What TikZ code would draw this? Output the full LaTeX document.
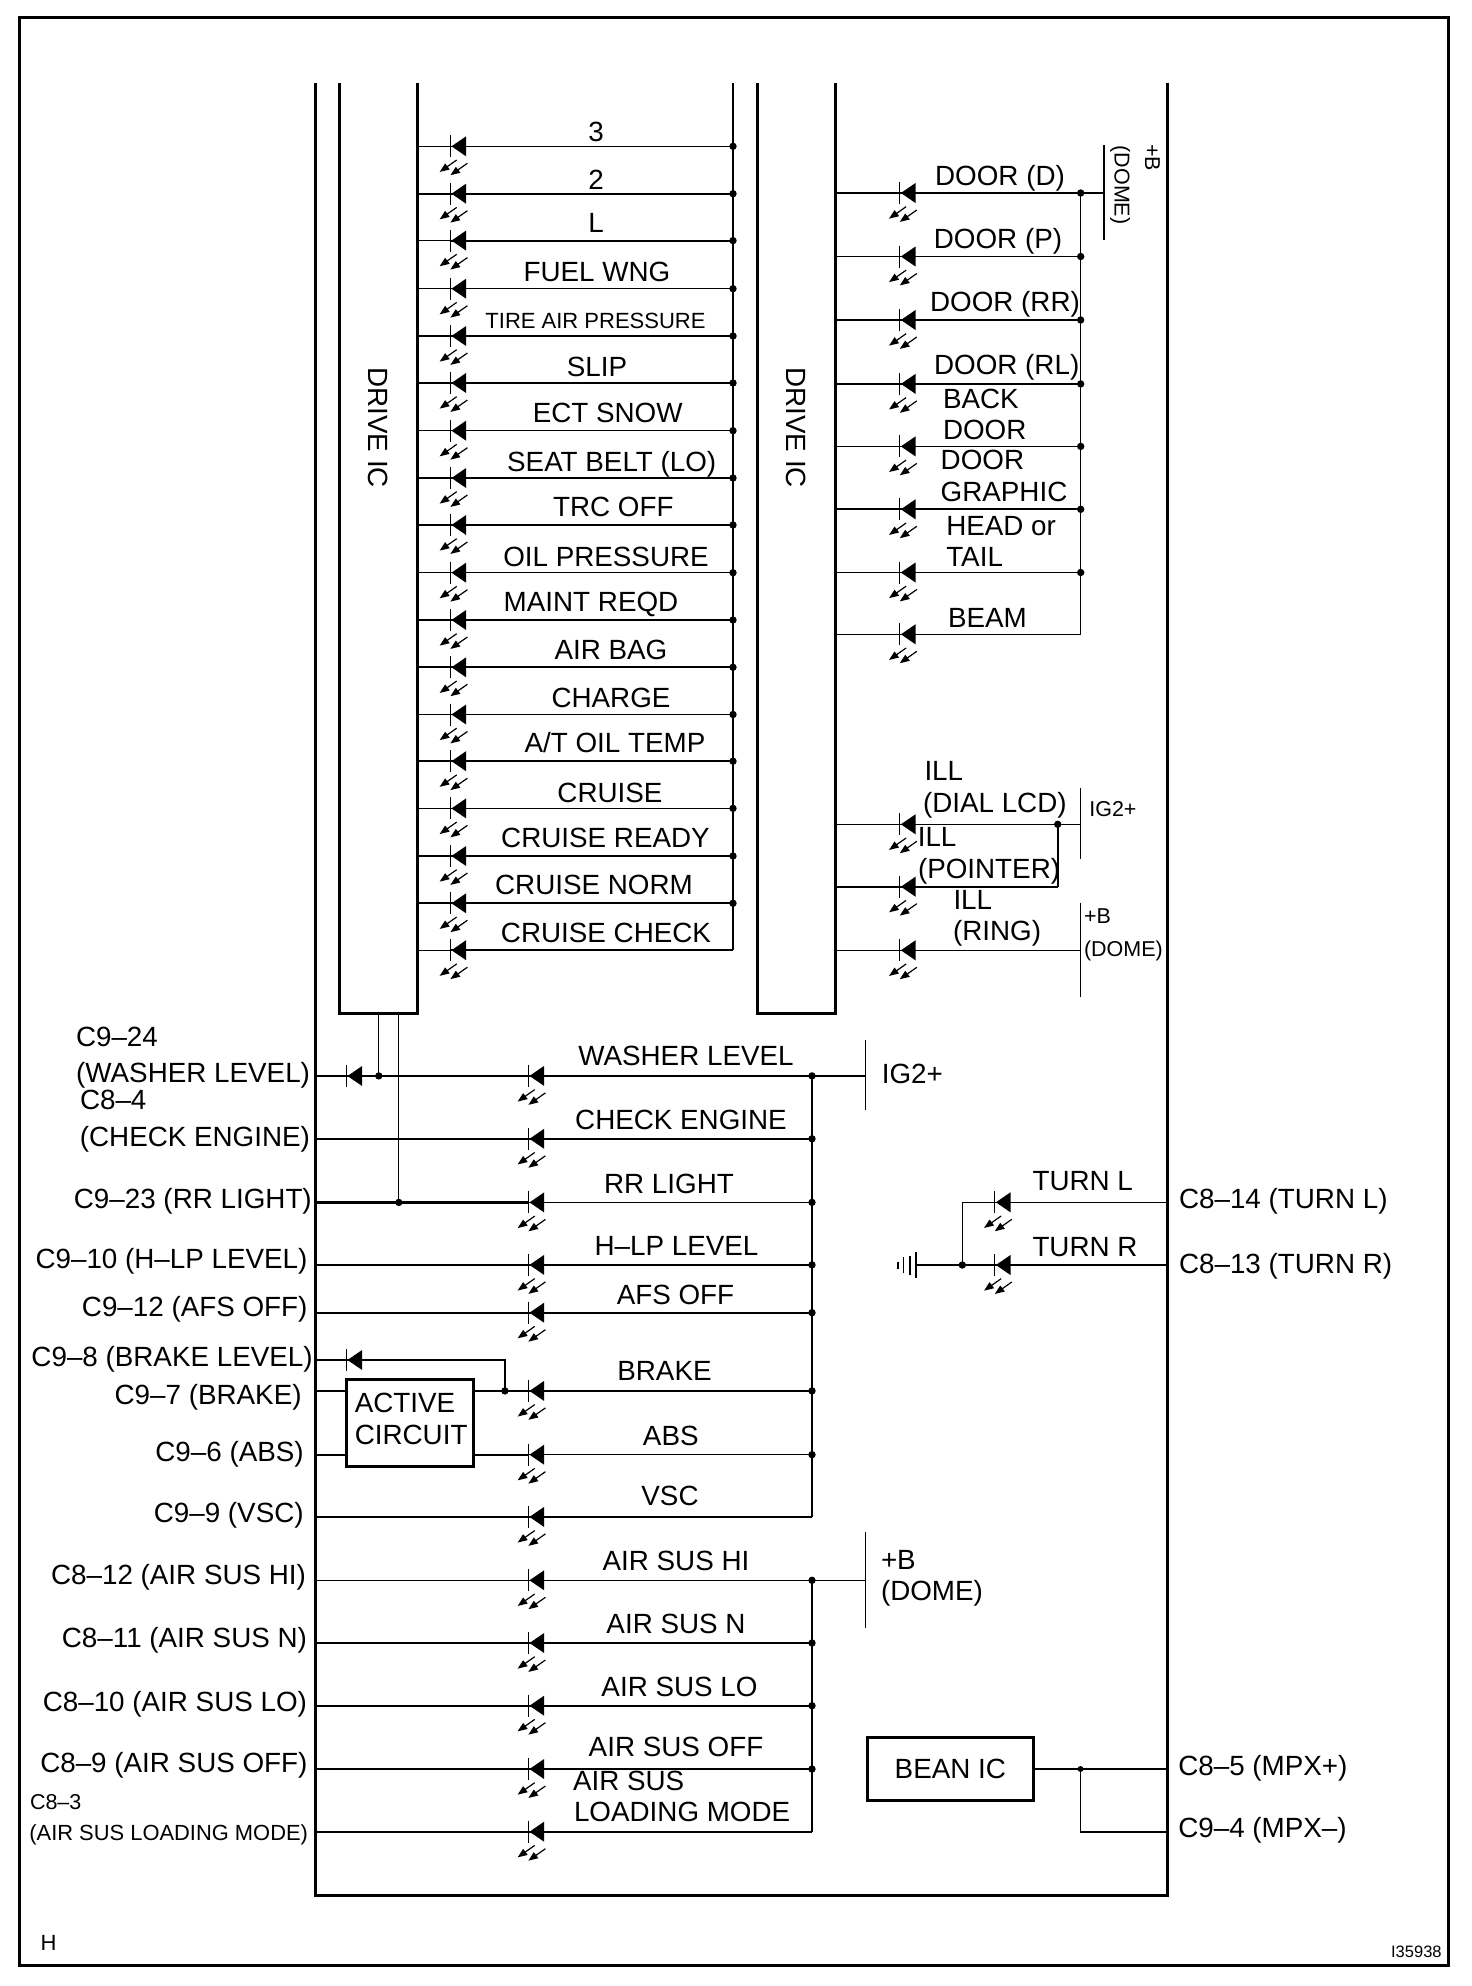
\documentclass[tikz,border=0pt]{standalone}
\usepackage{fontspec}
\setmainfont{Liberation Sans}
\tikzset{
  x=1pt,y=-1pt,
  lab/.style={inner sep=0pt,outer sep=0pt,anchor=base,font=\fontsize{27.8}{30}\selectfont},
  labw/.style={lab,anchor=base west},
  labe/.style={lab,anchor=base east},
  small/.style={font=\fontsize{21.5}{24}\selectfont},
  heavy/.style={line width=3pt},
  thinw/.style={line width=1.2pt},
  medw/.style={line width=1.8pt},
  jdot/.style={circle,fill=black,inner sep=0pt,minimum size=7.4pt},
  boxnode/.style={draw=black,line width=3pt,inner sep=0pt},
  diode/.pic={
    \draw[line width=1.3pt] (0,-11) -- (0,11);
    \fill (1.2,0) -- (15.8,-10) -- (15.8,10) -- cycle;
  },
  rays/.pic={
    \foreach \dx/\dy in {0/0,10.7/3.3}{
      \begin{scope}[shift={(\dx,\dy)}]
        \draw[line width=1.2pt] (6.4,13.7) -- (-5,21.7);
        \fill (-10.6,25.6) -- (-0.6,23.2) -- (-2.6,20.4) -- (-5.2,17.2) -- cycle;
      \end{scope}
    }
  },
}
\newcommand\wirerow[7]{%
  \coordinate (#1-a) at (#2,#5);
  \coordinate (#1-d) at (#3,#5);
  \coordinate (#1-b) at (#4,#5);
  \draw[line width=#6pt] (#1-a) -- (#1-d);
  \draw[line width=#7pt] (#1-d) -- (#1-b);
  \pic at (#1-d) {diode};
  \pic at (#1-d) {rays};
}
\begin{document}
\begin{tikzpicture}
\useasboundingbox (0,0) rectangle (1472,1986);
\fill[white] (0,0) rectangle (1472,1986);

% outer frame and module outline
\coordinate (fa) at (19.5,17.3);
\coordinate (fb) at (1448.5,1965.5);
\draw[heavy] (fa) rectangle (fb);
\coordinate (oa) at (315.5,83);
\coordinate (ob) at (315.5,1895);
\coordinate (oc) at (1167.7,1895);
\coordinate (od) at (1167.7,83);
\draw[heavy,miter limit=10] (oa) -- (ob) -- (oc) -- (od);

% drive ICs
\coordinate (ia) at (339.3,83);
\coordinate (ib) at (339.3,1013.5);
\coordinate (ic) at (417.3,1013.5);
\coordinate (id) at (417.3,83);
\draw[heavy] (ia) -- (ib) -- (ic) -- (id);
\coordinate (ja) at (757.3,83);
\coordinate (jb) at (757.3,1013.5);
\coordinate (jc) at (835,1013.5);
\coordinate (jd) at (835,83);
\draw[heavy] (ja) -- (jb) -- (jc) -- (jd);
\node[lab,rotate=-90] (drv1) at (368,427.7) {DRIVE IC};
\node[lab,rotate=-90] (drv2) at (786.5,427.7) {DRIVE IC};

% left indicator column
\foreach \y/\a/\b [count=\i] in {
  146.3/1.2/1.2, 193.7/2.2/2.2, 240.6/1.2/2.2, 288.7/1.2/1.2, 336/2.2/2.2, 383/2.2/2.2,
  430.7/1.2/1.2, 478/1.2/1.2, 525/2.2/2.2, 572.7/1.2/1.2, 620/2.2/2.2, 667.3/2.2/2.2,
  714.5/1.2/1.2, 761.2/2/2, 808.4/1.2/1.2, 856/2.2/2.2, 903.3/2.2/2.2, 950.2/1.2/2.2}{
  \wirerow{u\i}{417.3}{450.3}{733}{\y}{\a}{\b}
}
\coordinate (ubt) at (733,83);
\draw[medw] (ubt) -- (u18-b);
\foreach \i in {1,...,17}{\node[jdot] (ud\i) at (u\i-b) {};}
\node[lab] (t3) at (596,141) {3};
\node[lab] (t2) at (596,189.3) {2};
\node[lab] (tL) at (596,232) {L};
\node[lab] (tfuel) at (597,281.7) {FUEL WNG};
\node[lab,font=\fontsize{22}{24}\selectfont] (ttire) at (595.5,328) {TIRE AIR PRESSURE};
\node[lab] (tslip) at (597,376.7) {SLIP};
\node[lab] (tect) at (607.7,422.7) {ECT SNOW};
\node[lab] (tseat) at (611.7,471) {SEAT BELT (LO)};
\node[lab] (ttrc) at (613.3,516.4) {TRC OFF};
\node[lab] (toil) at (606,566) {OIL PRESSURE};
\node[lab] (tmaint) at (591,611.6) {MAINT REQD};
\node[lab] (tbag) at (611,659.3) {AIR BAG};
\node[lab] (tcharge) at (611,707.5) {CHARGE};
\node[lab] (tatoil) at (615,752.7) {A/T OIL TEMP};
\node[lab] (tcruise) at (610,802.5) {CRUISE};
\node[lab] (tready) at (605.5,847) {CRUISE READY};
\node[lab] (tnorm) at (594,894.5) {CRUISE NORM};
\node[lab] (tcheck) at (606,942.2) {CRUISE CHECK};

% right indicator column
\foreach \y/\a/\b [count=\i] in {
  193/2.2/2.2, 256.5/1.2/1.2, 320/2.2/2.2, 383.9/2.2/2.2,
  446.4/1.2/1.2, 509.3/2.2/2.2, 572.5/1.2/1.2, 634.3/1.2/1.2}{
  \wirerow{v\i}{835}{899.7}{1080.7}{\y}{\a}{\b}
}
\draw[thinw] (v1-b) -- (v8-b);
\foreach \i in {1,...,7}{\node[jdot] (vd\i) at (v\i-b) {};}
\coordinate (dma) at (1104,145.4);
\coordinate (dmb) at (1104,240);
\coordinate (dmc) at (1104,193);
\draw[thinw] (dma) -- (dmb);
\draw[medw] (v1-b) -- (dmc);
\node[lab,small,rotate=-90] (tpb1) at (1145,157.8) {+B};
\node[lab,small,rotate=-90] (tdm1) at (1114.5,185) {(DOME)};
\node[lab] (td1) at (1000,185) {DOOR (D)};
\node[lab] (td2) at (998,248) {DOOR (P)};
\node[lab] (td3) at (1005,311) {DOOR (RR)};
\node[lab] (td4) at (1006.7,374.3) {DOOR (RL)};
\node[labw] (td5) at (943,408.2) {BACK};
\node[labw] (td6) at (943,439.3) {DOOR};
\node[labw] (td7) at (940.7,469.6) {DOOR};
\node[labw] (td8) at (940.7,501.8) {GRAPHIC};
\node[labw] (td9) at (946.3,535.3) {HEAD or};
\node[labw] (td10) at (946.3,566.3) {TAIL};
\node[labw] (td11) at (948,627.8) {BEAM};

% illumination group
\wirerow{w1}{835}{899.7}{1080.3}{824.3}{1.2}{1.2}
\wirerow{w2}{835}{899.7}{1057.7}{886.7}{2.2}{2.2}
\wirerow{w3}{835}{899.7}{1080.3}{950.3}{1.2}{1.2}
\coordinate (wj) at (1057.7,824.3);
\node[jdot] (wjd) at (wj) {};
\draw[line width=2.2pt] (wjd.center) -- (w2-b);
\coordinate (iga) at (1080.3,788.3);
\coordinate (igb) at (1080.3,859.3);
\draw[thinw] (iga) -- (igb);
\coordinate (dna) at (1080.3,903.3);
\coordinate (dnb) at (1080.3,996.7);
\draw[thinw] (dna) -- (dnb);
\node[labw] (til1) at (924.5,780.7) {ILL};
\node[labw] (til2) at (923,812.3) {(DIAL LCD)};
\node[labw] (til3) at (917.8,846.7) {ILL};
\node[labw] (til4) at (918,878.3) {(POINTER)};
\node[labw] (til5) at (953.5,909.3) {ILL};
\node[labw] (til6) at (953,940.3) {(RING)};
\node[labw,small] (tig1) at (1089.3,816.7) {IG2+};
\node[labw,small] (tpb2) at (1084,923.3) {+B};
\node[labw,small] (tdm2) at (1084,956.3) {(DOME)};

% lower IG2+ group
\foreach \n/\y/\a/\b in {
  a/1075.9/1.2/2.2, b/1138.8/2.2/2.2, c/1202.4/2.2/1.2, d/1264.9/2.2/2.2, e/1312.7/2.2/2.2, h/1516.9/2.2/2.2}{
  \wirerow{\n}{315.5}{528.3}{812}{\y}{\a}{\b}
}
\node[boxnode,minimum width=127pt,minimum height=86.7pt] (act) at (410.3,1422.65) {};
\coordinate (fl) at (315.5,1390.9);
\coordinate (fw) at (act.west |- fl);
\coordinate (gl) at (315.5,1454.7);
\coordinate (gw) at (act.west |- gl);
\draw[line width=2.2pt] (fl) -- (fw);
\draw[line width=2.2pt] (gl) -- (gw);
\wirerow{f}{473.8}{528.3}{812}{1390.9}{2.2}{2.2}
\wirerow{g}{473.8}{528.3}{812}{1454.7}{2.2}{1.2}
\draw[line width=2.4pt] (a-b) -- (h-b);
\foreach \n in {a,b,c,d,e,f,g}{\node[jdot] (dot\n) at (\n-b) {};}
\coordinate (iha) at (865.5,1040);
\coordinate (ihb) at (865.5,1110.2);
\coordinate (ihc) at (865.5,1075.9);
\draw[line width=1.4pt] (iha) -- (ihb);
\draw[line width=2.2pt] (a-b) -- (ihc);
\node[labw] (tig2) at (881.8,1083) {IG2+};
\node[lab] (lw) at (686,1065.8) {WASHER LEVEL};
\node[lab] (lc) at (681,1129.5) {CHECK ENGINE};
\node[lab] (lr) at (669,1193.2) {RR LIGHT};
\node[lab] (lh) at (676.5,1255.9) {H–LP LEVEL};
\node[lab] (lf) at (675.5,1304) {AFS OFF};
\node[lab] (lb) at (664.5,1380.5) {BRAKE};
\node[lab] (la) at (670.8,1445) {ABS};
\node[lab] (lv) at (670,1505.5) {VSC};

% active circuit text and small diodes
\node[labw] (tact) at (354.8,1412.8) {ACTIVE};
\node[labw] (tcir) at (354.8,1444.6) {CIRCUIT};
\coordinate (sd1) at (346.3,1076);
\pic at (sd1) {diode};
\coordinate (sd2l) at (315.5,1360);
\coordinate (sd2) at (346.3,1360);
\coordinate (sd2r) at (504.9,1360);
\coordinate (sd2j) at (504.9,1390.9);
\draw[line width=1.7pt] (sd2l) -- (sd2) (sd2) -- (sd2r) -- (sd2j);
\pic at (sd2) {diode};
\node[jdot] (sd2d) at (sd2j) {};
\coordinate (dr1) at (378.8,1013.5);
\coordinate (dr1j) at (378.8,1075.9);
\coordinate (dr2) at (398.8,1013.5);
\coordinate (dr2j) at (398.8,1202.4);
\draw[thinw] (dr1) -- (dr1j);
\draw[thinw] (dr2) -- (dr2j);
\node[jdot] (dr1d) at (dr1j) {};
\node[jdot] (dr2d) at (dr2j) {};

% left connector labels
\node[labw] (c1a) at (76,1046) {C9–24};
\node[labe] (c1b) at (310,1082) {(WASHER LEVEL)};
\node[labw] (c2a) at (80,1109.3) {C8–4};
\node[labe] (c2b) at (310,1146) {(CHECK ENGINE)};
\node[labe] (c3) at (311.8,1208) {C9–23 (RR LIGHT)};
\node[labe] (c4) at (307.5,1268.3) {C9–10 (H–LP LEVEL)};
\node[labe] (c5) at (307.5,1316) {C9–12 (AFS OFF)};
\node[labe] (c6) at (312.7,1366) {C9–8 (BRAKE LEVEL)};
\node[labe] (c7) at (301.6,1404.3) {C9–7 (BRAKE)};
\node[labe] (c8) at (303.7,1461) {C9–6 (ABS)};
\node[labe] (c9) at (303.7,1522.3) {C9–9 (VSC)};
\node[labe] (c10) at (306,1584.3) {C8–12 (AIR SUS HI)};
\node[labe] (c11) at (307,1647) {C8–11 (AIR SUS N)};
\node[labe] (c12) at (307,1711) {C8–10 (AIR SUS LO)};
\node[labe] (c13) at (307.5,1772.3) {C8–9 (AIR SUS OFF)};
\node[labw,small] (c14a) at (30,1809.3) {C8–3};
\node[labe,font=\fontsize{21.9}{24}\selectfont] (c14b) at (308,1840) {(AIR SUS LOADING MODE)};

% air suspension group
\foreach \n/\y/\a/\b in {
  p/1580.3/1.2/1.2, q/1643/2.2/2.2, r/1705.7/2.2/2.2, s/1769/2.2/2.2, t/1831.7/1.8/1.8}{
  \wirerow{\n}{315.5}{528.3}{812}{\y}{\a}{\b}
}
\draw[line width=2pt] (p-b) -- (t-b);
\foreach \n in {p,q,r,s}{\node[jdot] (dot\n) at (\n-b) {};}
\coordinate (pa) at (865.5,1532.3);
\coordinate (pb) at (865.5,1627.7);
\coordinate (pc) at (865.5,1580.3);
\draw[line width=1.4pt] (pa) -- (pb);
\draw[thinw] (p-b) -- (pc);
\node[lab] (m1) at (676,1570) {AIR SUS HI};
\node[lab] (m2) at (676,1633.7) {AIR SUS N};
\node[lab] (m3) at (679.5,1696) {AIR SUS LO};
\node[lab] (m4) at (676,1756.7) {AIR SUS OFF};
\node[labw] (m5) at (573,1790) {AIR SUS};
\node[labw] (m6) at (574,1821.7) {LOADING MODE};
\node[labw] (tpb3) at (881,1569.3) {+B};
\node[labw] (tdm3) at (881,1600.7) {(DOME)};

% turn indicators
\wirerow{tl}{962.3}{994.7}{1167.7}{1202.3}{1.2}{1.2}
\wirerow{tr}{915.8}{994.7}{1167.7}{1265}{2.2}{2.2}
\coordinate (trj) at (962.3,1265);
\draw[thinw] (tl-a) -- (trj);
\node[jdot] (trd) at (trj) {};
\coordinate (g1a) at (915.8,1251.7); \coordinate (g1b) at (915.8,1278.3);
\coordinate (g2a) at (910,1256); \coordinate (g2b) at (910,1275);
\coordinate (g3a) at (903.7,1257.3); \coordinate (g3b) at (903.7,1273.3);
\coordinate (g4a) at (897.9,1261.7); \coordinate (g4b) at (897.9,1269.3);
\draw[line width=1.4pt] (g1a) -- (g1b) (g2a) -- (g2b) (g3a) -- (g3b) (g4a) -- (g4b);
\node[lab] (tt1) at (1082.7,1190.7) {TURN L};
\node[lab] (tt2) at (1085,1256) {TURN R};
\node[labw] (tc1) at (1179,1208) {C8–14 (TURN L)};
\node[labw] (tc2) at (1179,1273) {C8–13 (TURN R)};

% BEAN IC
\node[boxnode,font=\fontsize{27.8}{30}\selectfont,minimum width=166.7pt,minimum height=63.7pt] (bean) at (950.35,1768.85) {BEAN IC};
\coordinate (bp) at (1167.7,1769);
\coordinate (bm) at (1167.7,1832);
\coordinate (bj) at (1080.5,1769);
\coordinate (bk) at (1080.5,1832);
\coordinate (bo) at (bean.east |- bj);
\draw[line width=1.6pt] (bo) -- (bp);
\draw[line width=1.2pt] (bj) -- (bk) -- (bm);
\node[jdot,minimum size=6pt] (bjd) at (bj) {};
\node[labw] (mp) at (1178.3,1775.5) {C8–5 (MPX+)};
\node[labw] (mm) at (1178.3,1837) {C9–4 (MPX–)};

% sheet marks
\node[labw,font=\fontsize{22}{24}\selectfont] (sh) at (40.5,1950.7) {H};
\node[labe,font=\fontsize{16.5}{18}\selectfont] (sn) at (1441.6,1957) {I35938};
\end{tikzpicture}
\end{document}
